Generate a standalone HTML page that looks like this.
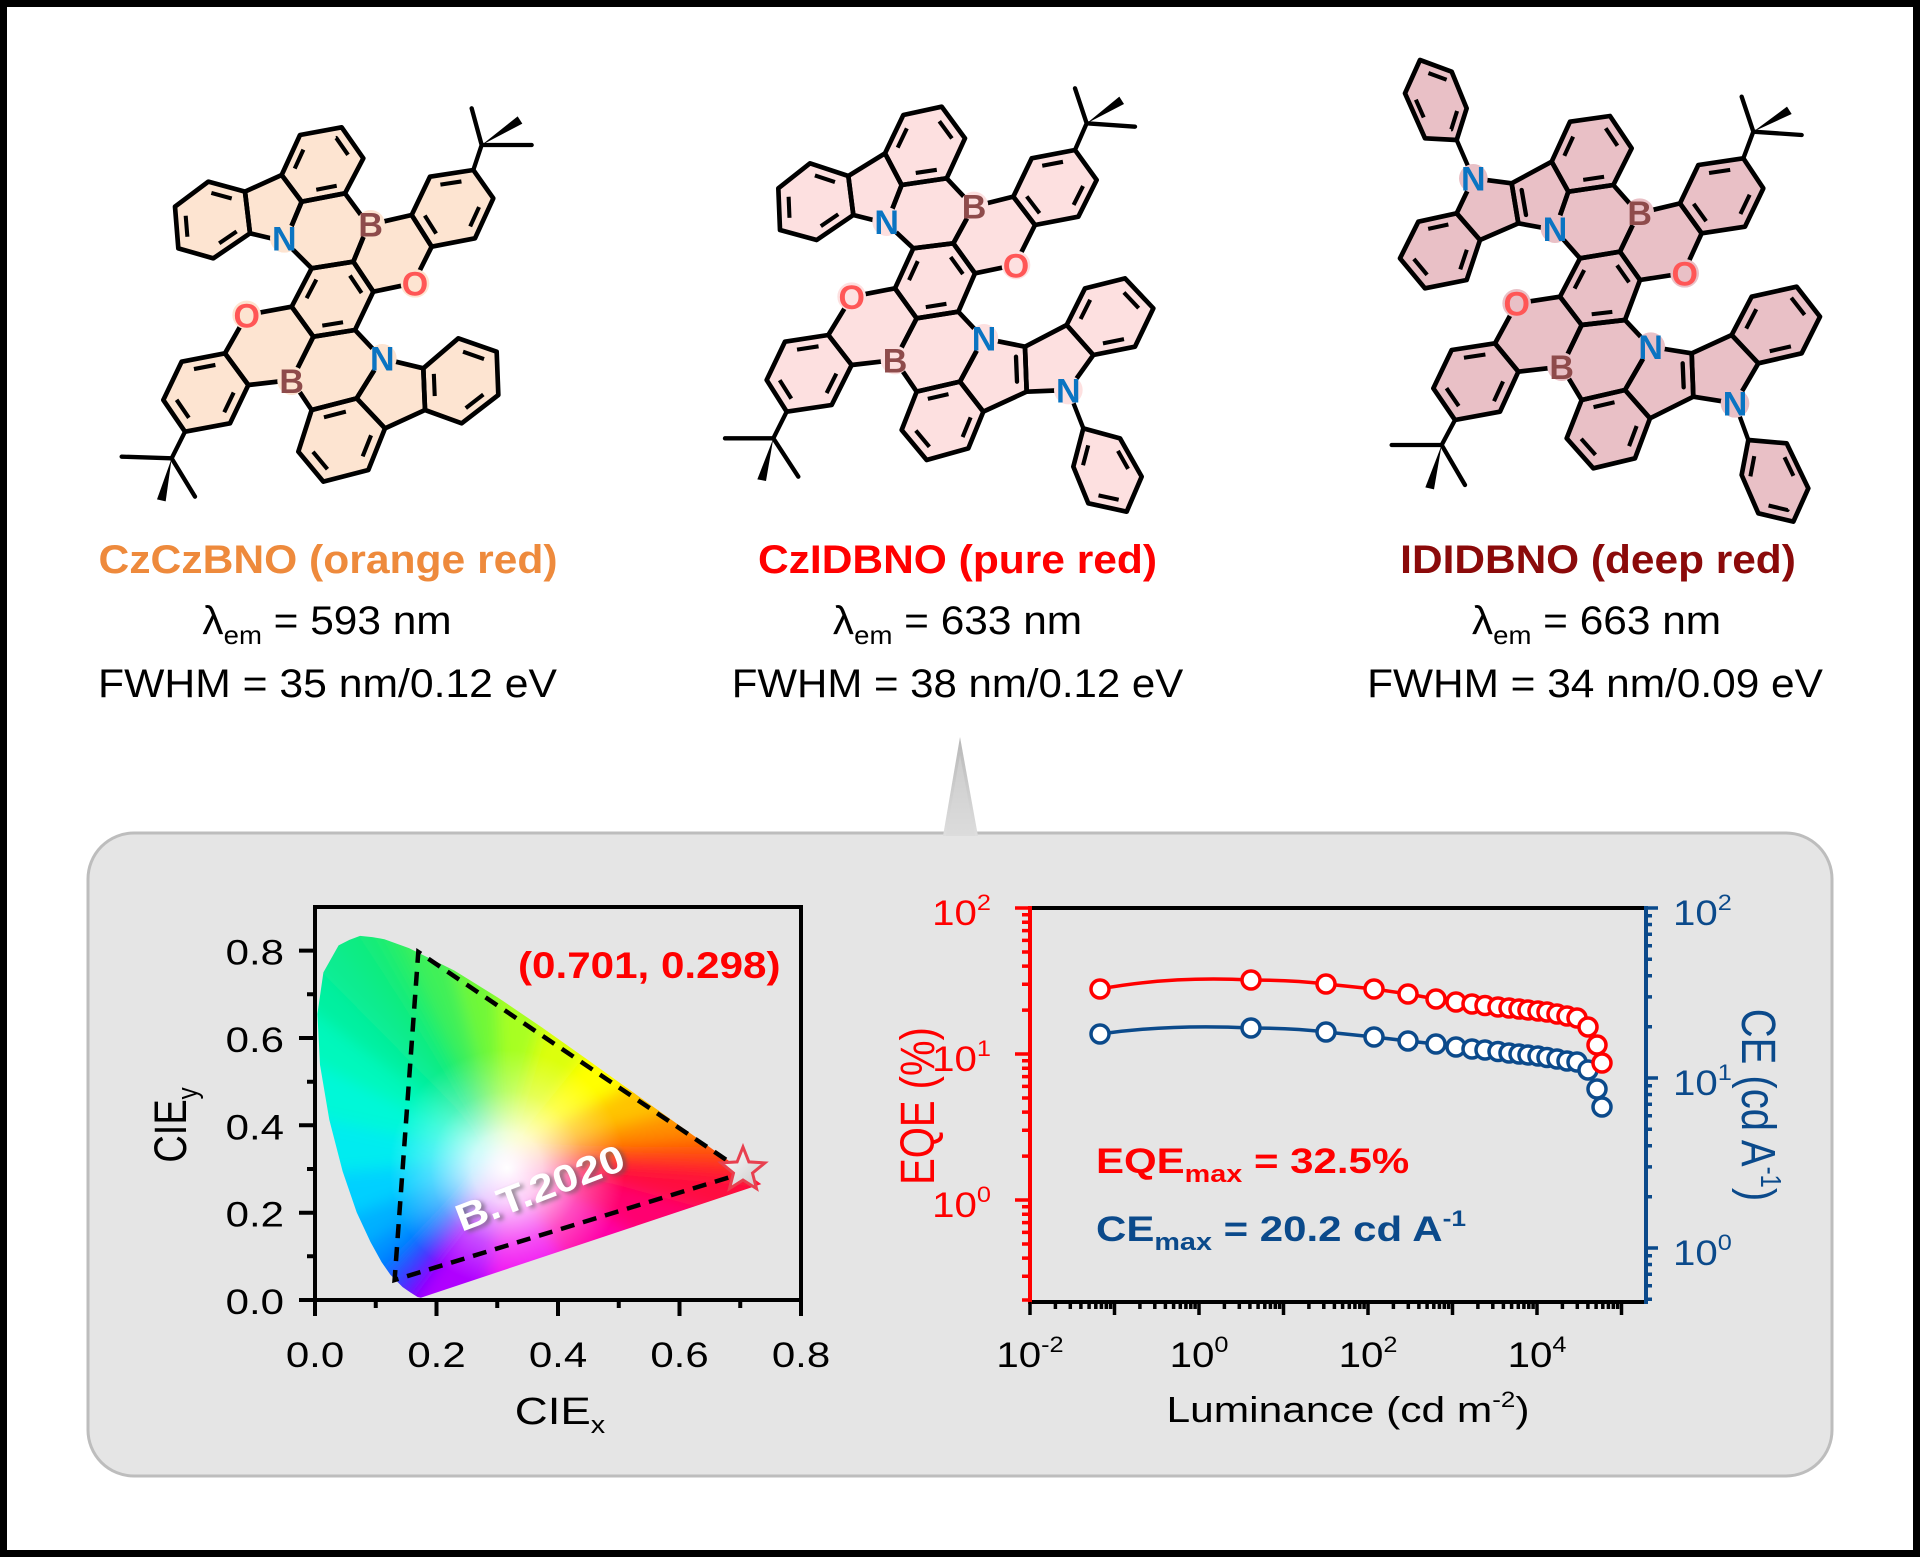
<!DOCTYPE html>
<html><head><meta charset="utf-8"><style>
html,body{margin:0;padding:0;background:#fff;}
svg{display:block;}
</style></head><body>
<svg xmlns="http://www.w3.org/2000/svg" width="1920" height="1557" viewBox="0 0 1920 1557" font-family="'Liberation Sans', Arial, sans-serif">
<defs>
<filter id="bl" x="200" y="800" width="720" height="620" filterUnits="userSpaceOnUse"><feGaussianBlur stdDeviation="8"/></filter>
<filter id="sh" x="-20%" y="-50%" width="140%" height="200%"><feGaussianBlur stdDeviation="2"/></filter>
<clipPath id="hs"><polygon points="420.8,1297.8 417.6,1297.0 410.1,1292.3 402.5,1287.0 390.4,1274.8 381.6,1262.1 370.5,1242.0 356.7,1212.4 342.6,1171.2 329.3,1119.8 320.0,1064.9 317.4,1014.0 323.4,972.4 338.6,945.4 349.4,939.9 360.1,935.9 372.3,937.1 384.4,939.2 409.0,948.1 454.5,970.6 498.2,997.7 541.7,1027.3 584.8,1057.8 626.3,1087.5 664.4,1114.7 695.9,1137.3 719.5,1154.1 735.1,1165.4 751.8,1177.3 761.3,1184.1"/></clipPath>
<radialGradient id="wg" cx="507" cy="1168" r="118" gradientUnits="userSpaceOnUse">
<stop offset="0" stop-color="#fff" stop-opacity="1"/>
<stop offset="0.3" stop-color="#fff" stop-opacity="0.8"/>
<stop offset="0.65" stop-color="#fff" stop-opacity="0.3"/>
<stop offset="1" stop-color="#fff" stop-opacity="0"/>
</radialGradient>
<linearGradient id="tg" x1="0" y1="0" x2="0" y2="1">
<stop offset="0" stop-color="#b8b8b8"/><stop offset="1" stop-color="#dedede"/>
</linearGradient>
<linearGradient id="stg" x1="0" y1="0" x2="1" y2="1">
<stop offset="0" stop-color="#ffffff"/><stop offset="1" stop-color="#c8c8c8"/>
</linearGradient>
</defs>

<rect x="0" y="0" width="1920" height="1557" fill="#fff"/>
<rect x="3.5" y="3.5" width="1913" height="1550" fill="none" stroke="#000" stroke-width="7"/>

<!-- ========== Molecule 1 ========== -->
<g transform="translate(115 95) scale(0.33333)" stroke-linejoin="round" stroke-linecap="round">
<g id="m1r">
<polygon points="590,520 715,500 775,590 720,705 595,725 530,635"/>
<polygon points="510,440 590,520 715,500 760,390 690,295 560,320"/>
<polygon points="760,390 715,500 775,590 895,565 950,455 890,360"/>
<polygon points="890,360 945,245 1075,225 1135,310 1080,430 950,455"/>
<polygon points="560,320 500,240 555,120 680,97 745,190 690,295"/>
<polygon points="510,440 560,320 500,240 390,290 405,415"/>
<polygon points="390,290 280,260 180,335 190,460 295,490 405,415"/>
<polygon points="395,660 530,635 595,725 530,855 400,870 330,775"/>
<polygon points="330,775 200,800 145,915 210,1010 345,985 400,870"/>
<polygon points="530,855 595,725 720,705 800,790 725,910 590,945"/>
<polygon points="590,945 550,1070 625,1160 760,1125 810,1000 725,910"/>
<polygon points="800,790 725,910 810,1000 930,945 925,820"/>
<polygon points="925,820 1030,730 1145,770 1150,900 1040,985 930,945"/>
</g>
</g>
<g transform="translate(115 95) scale(0.33333)" stroke-linejoin="round" stroke-linecap="round">
<use href="#m1r" fill="#fde4d1" stroke="#fde4d1" stroke-width="2"/>
<use href="#m1r" fill="none" stroke="#000" stroke-width="14"/>
<path d="M1075 225L1100 150M1100 150L1070 40M1100 150L1250 150M210 1010L170 1090M170 1090L20 1085M170 1090L240 1205" fill="none" stroke="#000" stroke-width="13"/>
<polygon points="1100,150 1208,64 1222,86" fill="#000"/>
<polygon points="170,1090 126,1213 152,1219" fill="#000"/>
<g fill="none" stroke="#000" stroke-width="17" stroke-dasharray="0.72 1.28" stroke-dashoffset="-0.14" stroke-linecap="butt">
<polygon pathLength="6" transform="translate(654.2 612.5) scale(0.72) translate(-654.2 -612.5)" points="715,500 775,590 720,705 595,725 530,635 590,520"/>
<polygon pathLength="6" transform="translate(1012.5 337.5) scale(0.72) translate(-1012.5 -337.5)" points="945,245 1075,225 1135,310 1080,430 950,455 890,360"/>
<polygon pathLength="6" transform="translate(621.7 210.3) scale(0.72) translate(-621.7 -210.3)" points="500,240 555,120 680,97 745,190 690,295 560,320"/>
<polygon pathLength="6" transform="translate(290 375) scale(0.72) translate(-290 -375)" points="390,290 280,260 180,335 190,460 295,490 405,415"/>
<polygon pathLength="6" transform="translate(271.7 890.8) scale(0.72) translate(-271.7 -890.8)" points="330,775 200,800 145,915 210,1010 345,985 400,870"/>
<polygon pathLength="6" transform="translate(676.7 1035) scale(0.72) translate(-676.7 -1035)" points="550,1070 625,1160 760,1125 810,1000 725,910 590,945"/>
<polygon pathLength="6" transform="translate(1036.7 858.3) scale(0.72) translate(-1036.7 -858.3)" points="1030,730 1145,770 1150,900 1040,985 930,945 925,820"/>
</g>
<g fill="#fde4d1">
<circle cx="508" cy="430" r="43"/><circle cx="767" cy="388" r="43"/><circle cx="900" cy="565" r="43"/>
<circle cx="395" cy="660" r="43"/><circle cx="530" cy="857" r="43"/><circle cx="802" cy="790" r="43"/>
</g>
<g font-size="102" font-weight="bold" text-anchor="middle">
<text x="508" y="467" fill="#0a74c2">N</text>
<text x="767" y="425" fill="#8e4b4b">B</text>
<text x="900" y="602" fill="#ff5656">O</text>
<text x="395" y="697" fill="#ff5656">O</text>
<text x="530" y="894" fill="#8e4b4b">B</text>
<text x="802" y="827" fill="#0a74c2">N</text>
</g>
</g>

<!-- ========== Molecule 2 ========== -->
<g transform="translate(720 80) scale(0.33333)" stroke-linejoin="round" stroke-linecap="round">
<g id="m2r">
<polygon points="580,505 700,490 765,580 715,695 590,715 525,625"/>
<polygon points="500,430 580,505 700,490 760,380 680,295 545,315"/>
<polygon points="760,380 700,490 765,580 885,555 945,435 880,350"/>
<polygon points="880,350 935,235 1065,210 1130,300 1075,410 945,435"/>
<polygon points="545,315 495,220 550,105 665,80 735,175 680,295"/>
<polygon points="500,430 545,315 495,220 385,288 400,405"/>
<polygon points="385,288 270,250 175,325 180,450 290,480 400,405"/>
<polygon points="395,650 525,625 590,715 525,840 395,855 325,765"/>
<polygon points="325,765 195,785 140,900 200,995 335,975 395,855"/>
<polygon points="525,840 590,715 715,695 790,775 720,905 590,935"/>
<polygon points="590,935 545,1050 620,1140 745,1105 790,995 720,905"/>
<polygon points="790,775 720,905 790,995 920,935 915,800"/>
<polygon points="915,800 1040,735 1120,825 1045,930 920,935"/>
<polygon points="1040,735 1095,625 1215,595 1300,685 1245,800 1120,825"/>
<polygon points="1090,1045 1200,1075 1265,1190 1220,1295 1105,1270 1060,1160"/>
</g>
</g>
<g transform="translate(720 80) scale(0.33333)" stroke-linejoin="round" stroke-linecap="round">
<use href="#m2r" fill="#fde0e0" stroke="#fde0e0" stroke-width="2"/>
<use href="#m2r" fill="none" stroke="#000" stroke-width="14"/>
<path d="M1065 210L1100 130M1100 130L1065 25M1100 130L1245 140M200 995L160 1075M160 1075L15 1075M160 1075L235 1190M1045 930L1090 1045M888 830L891 905" fill="none" stroke="#000" stroke-width="13"/>
<polygon points="1100,130 1198,50 1212,72" fill="#000"/>
<polygon points="160,1075 112,1198 138,1203" fill="#000"/>
<g fill="none" stroke="#000" stroke-width="17" stroke-dasharray="0.72 1.28" stroke-dashoffset="-0.14" stroke-linecap="butt">
<polygon pathLength="6" transform="translate(645.8 601.7) scale(0.72) translate(-645.8 -601.7)" points="700,490 765,580 715,695 590,715 525,625 580,505"/>
<polygon pathLength="6" transform="translate(1005 323.3) scale(0.72) translate(-1005 -323.3)" points="935,235 1065,210 1130,300 1075,410 945,435 880,350"/>
<polygon pathLength="6" transform="translate(611.7 198.3) scale(0.72) translate(-611.7 -198.3)" points="495,220 550,105 665,80 735,175 680,295 545,315"/>
<polygon pathLength="6" transform="translate(283.3 366.3) scale(0.72) translate(-283.3 -366.3)" points="385,288 270,250 175,325 180,450 290,480 400,405"/>
<polygon pathLength="6" transform="translate(265 879.2) scale(0.72) translate(-265 -879.2)" points="325,765 195,785 140,900 200,995 335,975 395,855"/>
<polygon pathLength="6" transform="translate(668.3 1021.7) scale(0.72) translate(-668.3 -1021.7)" points="545,1050 620,1140 745,1105 790,995 720,905 590,935"/>
<polygon pathLength="6" transform="translate(1169.2 710.8) scale(0.72) translate(-1169.2 -710.8)" points="1040,735 1095,625 1215,595 1300,685 1245,800 1120,825"/>
<polygon pathLength="6" transform="translate(1156.7 1172.5) scale(0.72) translate(-1156.7 -1172.5)" points="1200,1075 1265,1190 1220,1295 1105,1270 1060,1160 1090,1045"/>
</g>
<g fill="#fde0e0">
<circle cx="500" cy="425" r="43"/><circle cx="762" cy="378" r="43"/><circle cx="888" cy="555" r="43"/>
<circle cx="395" cy="650" r="43"/><circle cx="525" cy="840" r="43"/><circle cx="792" cy="775" r="43"/><circle cx="1045" cy="930" r="43"/>
</g>
<g font-size="102" font-weight="bold" text-anchor="middle">
<text x="500" y="462" fill="#0a74c2">N</text>
<text x="762" y="415" fill="#8e4b4b">B</text>
<text x="888" y="592" fill="#ff5656">O</text>
<text x="395" y="687" fill="#ff5656">O</text>
<text x="525" y="877" fill="#8e4b4b">B</text>
<text x="792" y="812" fill="#0a74c2">N</text>
<text x="1045" y="967" fill="#0a74c2">N</text>
</g>
</g>

<!-- ========== Molecule 3 ========== -->
<g transform="translate(1385 50) scale(0.33333)" stroke-linejoin="round" stroke-linecap="round">
<g id="m3r">
<polygon points="585,625 705,605 765,690 720,810 590,825 525,740"/>
<polygon points="510,540 585,625 705,605 760,490 685,405 550,425"/>
<polygon points="760,490 705,605 765,690 895,670 950,550 885,460"/>
<polygon points="885,460 940,345 1075,325 1135,415 1080,530 950,550"/>
<polygon points="550,425 500,335 555,215 675,198 740,295 685,405"/>
<polygon points="510,540 550,425 500,335 380,400 400,520"/>
<polygon points="380,400 265,385 215,490 285,570 400,520"/>
<polygon points="215,490 100,515 45,625 120,715 245,690 285,570"/>
<polygon points="105,30 200,65 245,175 215,270 120,265 60,130"/>
<polygon points="395,760 525,740 590,825 530,950 400,965 330,880"/>
<polygon points="330,880 200,900 145,1015 210,1110 345,1085 400,965"/>
<polygon points="530,950 590,825 720,810 795,890 720,1020 590,1050"/>
<polygon points="590,1050 545,1165 625,1255 750,1225 795,1105 720,1020"/>
<polygon points="795,890 720,1020 795,1105 925,1040 920,910"/>
<polygon points="920,910 1040,855 1120,940 1050,1060 925,1040"/>
<polygon points="1040,855 1100,740 1235,710 1305,800 1250,910 1120,940"/>
<polygon points="1090,1170 1205,1180 1270,1315 1225,1415 1120,1390 1070,1275"/>
</g>
</g>
<g transform="translate(1385 50) scale(0.33333)" stroke-linejoin="round" stroke-linecap="round">
<use href="#m3r" fill="#e9c0c6" stroke="#e9c0c6" stroke-width="2"/>
<use href="#m3r" fill="none" stroke="#000" stroke-width="14"/>
<path d="M1075 325L1105 245M1105 245L1070 140M1105 245L1250 255M210 1110L170 1185M170 1185L20 1185M170 1185L240 1305M265 385L215 270M1050 1060L1090 1170M410 420L423 495M893 940L896 1012" fill="none" stroke="#000" stroke-width="13"/>
<polygon points="1105,245 1206,170 1220,192" fill="#000"/>
<polygon points="170,1185 121,1312 147,1318" fill="#000"/>
<g fill="none" stroke="#000" stroke-width="17" stroke-dasharray="0.72 1.28" stroke-dashoffset="-0.14" stroke-linecap="butt">
<polygon pathLength="6" transform="translate(648.3 715.8) scale(0.72) translate(-648.3 -715.8)" points="705,605 765,690 720,810 590,825 525,740 585,625"/>
<polygon pathLength="6" transform="translate(1010.8 437.5) scale(0.72) translate(-1010.8 -437.5)" points="940,345 1075,325 1135,415 1080,530 950,550 885,460"/>
<polygon pathLength="6" transform="translate(617.5 312.2) scale(0.72) translate(-617.5 -312.2)" points="500,335 555,215 675,198 740,295 685,405 550,425"/>
<polygon pathLength="6" transform="translate(168.3 600.8) scale(0.72) translate(-168.3 -600.8)" points="215,490 100,515 45,625 120,715 245,690 285,570"/>
<polygon pathLength="6" transform="translate(157.5 155.8) scale(0.72) translate(-157.5 -155.8)" points="105,30 200,65 245,175 215,270 120,265 60,130"/>
<polygon pathLength="6" transform="translate(271.7 992.5) scale(0.72) translate(-271.7 -992.5)" points="330,880 200,900 145,1015 210,1110 345,1085 400,965"/>
<polygon pathLength="6" transform="translate(670.8 1136.7) scale(0.72) translate(-670.8 -1136.7)" points="545,1165 625,1255 750,1225 795,1105 720,1020 590,1050"/>
<polygon pathLength="6" transform="translate(1175 825.8) scale(0.72) translate(-1175 -825.8)" points="1040,855 1100,740 1235,710 1305,800 1250,910 1120,940"/>
<polygon pathLength="6" transform="translate(1163.3 1290.8) scale(0.72) translate(-1163.3 -1290.8)" points="1205,1180 1270,1315 1225,1415 1120,1390 1070,1275 1090,1170"/>
</g>
<g fill="#e9c0c6">
<circle cx="265" cy="385" r="43"/><circle cx="510" cy="536" r="43"/><circle cx="764" cy="488" r="43"/><circle cx="899" cy="670" r="43"/>
<circle cx="395" cy="760" r="43"/><circle cx="530" cy="950" r="43"/><circle cx="797" cy="890" r="43"/><circle cx="1050" cy="1060" r="43"/>
</g>
<g font-size="102" font-weight="bold" text-anchor="middle">
<text x="265" y="422" fill="#0a74c2">N</text>
<text x="510" y="573" fill="#0a74c2">N</text>
<text x="764" y="525" fill="#8e4b4b">B</text>
<text x="899" y="707" fill="#ff5656">O</text>
<text x="395" y="797" fill="#ff5656">O</text>
<text x="530" y="987" fill="#8e4b4b">B</text>
<text x="797" y="927" fill="#0a74c2">N</text>
<text x="1050" y="1097" fill="#0a74c2">N</text>
</g>
</g>

<!-- ========== Top text ========== -->
<g font-weight="bold" font-size="40" text-anchor="middle">
<text transform="translate(328 573) scale(1.065 1)" fill="#ee8a3c">CzCzBNO (orange red)</text>
<text transform="translate(957.5 573) scale(1.063 1)" fill="#ff0000">CzIDBNO (pure red)</text>
<text transform="translate(1598 573) scale(1.06 1)" fill="#8b0a0a">IDIDBNO (deep red)</text>
</g>
<g font-size="40" text-anchor="middle" fill="#000">
<text transform="translate(327 634) scale(1.06 1)">λ<tspan font-size="26" dy="10">em</tspan><tspan dy="-10"> = 593 nm</tspan></text>
<text transform="translate(957.5 634) scale(1.06 1)">λ<tspan font-size="26" dy="10">em</tspan><tspan dy="-10"> = 633 nm</tspan></text>
<text transform="translate(1596.5 634) scale(1.06 1)">λ<tspan font-size="26" dy="10">em</tspan><tspan dy="-10"> = 663 nm</tspan></text>
<text transform="translate(327.5 697) scale(1.067 1)">FWHM = 35 nm/0.12 eV</text>
<text transform="translate(957.5 697) scale(1.05 1)">FWHM = 38 nm/0.12 eV</text>
<text transform="translate(1595 697) scale(1.06 1)">FWHM = 34 nm/0.09 eV</text>
</g>

<!-- ========== Bottom panel ========== -->
<rect x="88" y="833" width="1744" height="643" rx="46" ry="46" fill="#e5e5e5" stroke="#bdbdbd" stroke-width="3"/>
<polygon points="943,836 960,737 978,836" fill="url(#tg)"/>
<polygon points="946,836 960,755 975,836" fill="#d9d9d9" opacity="0.5"/>

<!-- CIE diagram -->
<g clip-path="url(#hs)">
<g filter="url(#bl)" stroke-width="2">
<polygon points="505,1156 391.3,1347.3 387.0,1346.2" fill="#8a00ff" stroke="#8a00ff"/>
<polygon points="505,1156 387.0,1346.2 376.9,1339.9" fill="#7a00ff" stroke="#7a00ff"/>
<polygon points="505,1156 376.9,1339.9 366.6,1332.7" fill="#5a10ff" stroke="#5a10ff"/>
<polygon points="505,1156 366.6,1332.7 350.3,1316.3" fill="#3040ff" stroke="#3040ff"/>
<polygon points="505,1156 350.3,1316.3 338.4,1299.1" fill="#0070ff" stroke="#0070ff"/>
<polygon points="505,1156 338.4,1299.1 323.4,1272.0" fill="#0090ff" stroke="#0090ff"/>
<polygon points="505,1156 323.4,1272.0 304.8,1232.0" fill="#00b0ff" stroke="#00b0ff"/>
<polygon points="505,1156 304.8,1232.0 285.8,1176.4" fill="#00d0ff" stroke="#00d0ff"/>
<polygon points="505,1156 285.8,1176.4 267.8,1107.0" fill="#00ecf0" stroke="#00ecf0"/>
<polygon points="505,1156 267.8,1107.0 255.3,1032.9" fill="#00f8d8" stroke="#00f8d8"/>
<polygon points="505,1156 255.3,1032.9 251.7,964.2" fill="#00f8bc" stroke="#00f8bc"/>
<polygon points="505,1156 251.7,964.2 259.8,908.0" fill="#00f0a0" stroke="#00f0a0"/>
<polygon points="505,1156 259.8,908.0 280.4,871.6" fill="#08ec90" stroke="#08ec90"/>
<polygon points="505,1156 280.4,871.6 309.4,858.8" fill="#10ec84" stroke="#10ec84"/>
<polygon points="505,1156 309.4,858.8 342.2,863.2" fill="#18ec78" stroke="#18ec78"/>
<polygon points="505,1156 342.2,863.2 375.4,875.2" fill="#28ee68" stroke="#28ee68"/>
<polygon points="505,1156 375.4,875.2 436.8,905.6" fill="#40f058" stroke="#40f058"/>
<polygon points="505,1156 436.8,905.6 495.8,942.2" fill="#70f838" stroke="#70f838"/>
<polygon points="505,1156 495.8,942.2 554.5,982.1" fill="#a8ff20" stroke="#a8ff20"/>
<polygon points="505,1156 554.5,982.1 612.7,1023.3" fill="#dcff08" stroke="#dcff08"/>
<polygon points="505,1156 612.7,1023.3 668.8,1063.4" fill="#ffff00" stroke="#ffff00"/>
<polygon points="505,1156 668.8,1063.4 720.2,1100.1" fill="#ffc400" stroke="#ffc400"/>
<polygon points="505,1156 720.2,1100.1 762.7,1130.7" fill="#ff9000" stroke="#ff9000"/>
<polygon points="505,1156 762.7,1130.7 794.6,1153.3" fill="#ff6000" stroke="#ff6000"/>
<polygon points="505,1156 794.6,1153.3 815.6,1168.6" fill="#ff3c18" stroke="#ff3c18"/>
<polygon points="505,1156 815.6,1168.6 838.2,1184.7" fill="#ff2428" stroke="#ff2428"/>
<polygon points="505,1156 838.2,1184.7 851.0,1193.8" fill="#ff1430" stroke="#ff1430"/>
<polygon points="505,1156 851.0,1193.8 759.1,1224.6" fill="#ff0840" stroke="#ff0840"/>
<polygon points="505,1156 759.1,1224.6 667.1,1255.3" fill="#ff0070" stroke="#ff0070"/>
<polygon points="505,1156 667.1,1255.3 575.2,1286.0" fill="#ff00a8" stroke="#ff00a8"/>
<polygon points="505,1156 575.2,1286.0 483.3,1316.7" fill="#f000f0" stroke="#f000f0"/>
<polygon points="505,1156 483.3,1316.7 391.3,1347.3" fill="#b000ff" stroke="#b000ff"/>
</g>
<rect x="250" y="850" width="620" height="520" fill="url(#wg)"/>
</g>
<polygon points="745,1172.5 418.3,952 394.6,1280" fill="none" stroke="#000" stroke-width="4.5" stroke-dasharray="14 9"/>
<g transform="translate(540 1188) rotate(-21)" font-weight="bold" font-size="38" text-anchor="middle">
<text x="3" y="16" fill="#555" opacity="0.6" filter="url(#sh)" textLength="178" lengthAdjust="spacingAndGlyphs">B.T.2020</text>
<text x="0" y="13" fill="#fff" textLength="178" lengthAdjust="spacingAndGlyphs">B.T.2020</text>
</g>
<polygon points="743,1147 748.9,1161.9 764.9,1162.9 752.5,1173.1 756.5,1188.6 743,1180 729.5,1188.6 733.5,1173.1 721.1,1162.9 737.1,1161.9" fill="url(#stg)" stroke="#e8404f" stroke-width="3" stroke-linejoin="miter"/>
<text transform="translate(518 978) scale(1.14 1)" font-weight="bold" font-size="37" fill="#ff0000">(0.701, 0.298)</text>

<rect x="315" y="907" width="486" height="393" fill="none" stroke="#000" stroke-width="4"/>
<path d="M315 1300v16M436.5 1300v16M558 1300v16M679.5 1300v16M801 1300v16M375.75 1300v8M497.25 1300v8M618.75 1300v8M740.25 1300v8M315 1300h-16M315 1212.7h-16M315 1125.3h-16M315 1038h-16M315 950.6h-16M315 1256.3h-8M315 1169h-8M315 1081.7h-8M315 994.3h-8" stroke="#000" stroke-width="4" fill="none"/>
<g font-size="35" fill="#000">
<g text-anchor="end">
<text transform="translate(284 1314) scale(1.2 1)">0.0</text>
<text transform="translate(284 1226.7) scale(1.2 1)">0.2</text>
<text transform="translate(284 1139.3) scale(1.2 1)">0.4</text>
<text transform="translate(284 1052) scale(1.2 1)">0.6</text>
<text transform="translate(284 964.6) scale(1.2 1)">0.8</text>
</g>
<g text-anchor="middle">
<text transform="translate(315 1367) scale(1.2 1)">0.0</text>
<text transform="translate(436.5 1367) scale(1.2 1)">0.2</text>
<text transform="translate(558 1367) scale(1.2 1)">0.4</text>
<text transform="translate(679.5 1367) scale(1.2 1)">0.6</text>
<text transform="translate(801 1367) scale(1.2 1)">0.8</text>
<text transform="translate(560 1424) scale(1.2 1)" font-size="38">CIE<tspan font-size="24" dy="9">x</tspan></text>
<text transform="translate(186 1125) scale(1.2 1) rotate(-90)" font-size="38">CIE<tspan font-size="24" dy="9">y</tspan></text>
</g>
</g>

<!-- EQE / CE plot -->
<path d="M1030 908H1646M1030 1302H1646" stroke="#000" stroke-width="4"/>
<path d="M1030 906V1304" stroke="#ff0000" stroke-width="4"/>
<path d="M1646 906V1304" stroke="#0b4a8b" stroke-width="4"/>
<path d="M1030 1302v13M1114.5 1302v13M1199 1302v13M1283.5 1302v13M1368 1302v13M1452.5 1302v13M1537 1302v13M1621.5 1302v13
M1055.4 1302v7M1070.3 1302v7M1080.9 1302v7M1089.1 1302v7M1095.8 1302v7M1101.4 1302v7M1106.3 1302v7M1110.6 1302v7
M1139.9 1302v7M1154.8 1302v7M1165.4 1302v7M1173.6 1302v7M1180.3 1302v7M1185.9 1302v7M1190.8 1302v7M1195.1 1302v7
M1224.4 1302v7M1239.3 1302v7M1249.9 1302v7M1258.1 1302v7M1264.8 1302v7M1270.4 1302v7M1275.3 1302v7M1279.6 1302v7
M1308.9 1302v7M1323.8 1302v7M1334.4 1302v7M1342.6 1302v7M1349.3 1302v7M1354.9 1302v7M1359.8 1302v7M1364.1 1302v7
M1393.4 1302v7M1408.3 1302v7M1418.9 1302v7M1427.1 1302v7M1433.8 1302v7M1439.4 1302v7M1444.3 1302v7M1448.6 1302v7
M1477.9 1302v7M1492.8 1302v7M1503.4 1302v7M1511.6 1302v7M1518.3 1302v7M1523.9 1302v7M1528.8 1302v7M1533.1 1302v7
M1562.4 1302v7M1577.3 1302v7M1587.9 1302v7M1596.1 1302v7M1602.8 1302v7M1608.4 1302v7M1613.3 1302v7M1617.6 1302v7" stroke="#000" stroke-width="3.5" fill="none"/>
<path d="M1030 908h-15M1030 1054h-15M1030 1200h-15
M1030 1010.1h-8M1030 984.3h-8M1030 966.1h-8M1030 952h-8M1030 940.4h-8M1030 930.6h-8M1030 922.2h-8M1030 914.7h-8
M1030 1156.1h-8M1030 1130.3h-8M1030 1112.1h-8M1030 1098h-8M1030 1086.4h-8M1030 1076.6h-8M1030 1068.2h-8M1030 1060.7h-8
M1030 1300h-8M1030 1276.3h-8M1030 1258.1h-8M1030 1244h-8M1030 1232.4h-8M1030 1222.6h-8M1030 1214.2h-8M1030 1206.7h-8" stroke="#ff0000" stroke-width="3.5" fill="none"/>
<path d="M1646 908h12M1646 1078h12M1646 1248h12
M1646 1026.8h6M1646 996.9h6M1646 975.7h6M1646 959.2h6M1646 945.7h6M1646 934.3h6M1646 924.5h6M1646 915.8h6
M1646 1196.8h6M1646 1166.9h6M1646 1145.7h6M1646 1129.2h6M1646 1115.7h6M1646 1104.3h6M1646 1094.5h6M1646 1085.8h6
M1646 1299.2h6M1646 1285.7h6M1646 1274.3h6M1646 1264.5h6M1646 1255.8h6" stroke="#0b4a8b" stroke-width="3.5" fill="none"/>

<!-- data -->
<path d="M1100 989Q1170 976 1251 980Q1292 980 1326 984L1374 989L1408 994L1436 999L1456 1002L1472 1004L1485 1005.5L1498 1007L1509 1008L1519 1009L1528 1010L1538 1011L1547 1012L1557 1014L1567 1016L1577 1018L1588 1027L1597 1045L1602 1063" fill="none" stroke="#ff0000" stroke-width="3.5" stroke-linejoin="round"/>
<path d="M1100 1034Q1170 1024 1251 1028Q1292 1028 1326 1032L1374 1037L1408 1041L1436 1044L1456 1047L1472 1049L1485 1050L1498 1051.5L1509 1053L1519 1054L1528 1055L1538 1056L1547 1057.5L1557 1059L1567 1061L1577 1062L1588 1070L1597 1089L1602 1107" fill="none" stroke="#0b4a8b" stroke-width="3.5" stroke-linejoin="round"/>
<g fill="#fff" stroke="#0b4a8b" stroke-width="3.5">
<circle cx="1100" cy="1034" r="9"/><circle cx="1251" cy="1028" r="9"/><circle cx="1326" cy="1032" r="9"/><circle cx="1374" cy="1037" r="9"/><circle cx="1408" cy="1041" r="9"/><circle cx="1436" cy="1044" r="9"/><circle cx="1456" cy="1047" r="9"/><circle cx="1472" cy="1049" r="9"/><circle cx="1485" cy="1050" r="9"/><circle cx="1498" cy="1051.5" r="9"/><circle cx="1509" cy="1053" r="9"/><circle cx="1519" cy="1054" r="9"/><circle cx="1528" cy="1055" r="9"/><circle cx="1538" cy="1056" r="9"/><circle cx="1547" cy="1057.5" r="9"/><circle cx="1557" cy="1059" r="9"/><circle cx="1567" cy="1061" r="9"/><circle cx="1577" cy="1062" r="9"/><circle cx="1588" cy="1070" r="9"/><circle cx="1597" cy="1089" r="9"/><circle cx="1602" cy="1107" r="9"/>
</g>
<g fill="#fff" stroke="#ff0000" stroke-width="3.5">
<circle cx="1100" cy="989" r="9"/><circle cx="1251" cy="980" r="9"/><circle cx="1326" cy="984" r="9"/><circle cx="1374" cy="989" r="9"/><circle cx="1408" cy="994" r="9"/><circle cx="1436" cy="999" r="9"/><circle cx="1456" cy="1002" r="9"/><circle cx="1472" cy="1004" r="9"/><circle cx="1485" cy="1005.5" r="9"/><circle cx="1498" cy="1007" r="9"/><circle cx="1509" cy="1008" r="9"/><circle cx="1519" cy="1009" r="9"/><circle cx="1528" cy="1010" r="9"/><circle cx="1538" cy="1011" r="9"/><circle cx="1547" cy="1012" r="9"/><circle cx="1557" cy="1014" r="9"/><circle cx="1567" cy="1016" r="9"/><circle cx="1577" cy="1018" r="9"/><circle cx="1588" cy="1027" r="9"/><circle cx="1597" cy="1045" r="9"/><circle cx="1602" cy="1063" r="9"/>
</g>

<!-- tick labels -->
<g font-size="35">
<g fill="#ff0000" text-anchor="end">
<text transform="translate(991 925) scale(1.15 1)">10<tspan font-size="22" dy="-15">2</tspan></text>
<text transform="translate(991 1071) scale(1.15 1)">10<tspan font-size="22" dy="-15">1</tspan></text>
<text transform="translate(991 1217) scale(1.15 1)">10<tspan font-size="22" dy="-15">0</tspan></text>
</g>
<g fill="#0b4a8b">
<text transform="translate(1673 925) scale(1.15 1)">10<tspan font-size="22" dy="-15">2</tspan></text>
<text transform="translate(1673 1095) scale(1.15 1)">10<tspan font-size="22" dy="-15">1</tspan></text>
<text transform="translate(1673 1265) scale(1.15 1)">10<tspan font-size="22" dy="-15">0</tspan></text>
</g>
<g fill="#000" text-anchor="middle">
<text transform="translate(1030 1367) scale(1.15 1)">10<tspan font-size="22" dy="-15">-2</tspan></text>
<text transform="translate(1199 1367) scale(1.15 1)">10<tspan font-size="22" dy="-15">0</tspan></text>
<text transform="translate(1368 1367) scale(1.15 1)">10<tspan font-size="22" dy="-15">2</tspan></text>
<text transform="translate(1537 1367) scale(1.15 1)">10<tspan font-size="22" dy="-15">4</tspan></text>
</g>
</g>
<text transform="translate(1348 1422) scale(1.18 1)" font-size="36" text-anchor="middle" fill="#000">Luminance (cd m<tspan font-size="22" dy="-15">-2</tspan><tspan dy="15">)</tspan></text>
<text transform="translate(934 1106) scale(1.2 1) rotate(-90)" font-size="40" text-anchor="middle" fill="#ff0000">EQE (%)</text>
<text transform="translate(1742 1105) scale(1.2 1) rotate(90)" font-size="40" text-anchor="middle" fill="#0b4a8b">CE (cd A<tspan font-size="24" dy="-16">-1</tspan><tspan dy="16">)</tspan></text>

<text transform="translate(1096 1173) scale(1.2 1)" font-size="35" font-weight="bold" fill="#ff0000">EQE<tspan font-size="24" dy="9">max</tspan><tspan dy="-9"> = 32.5%</tspan></text>
<text transform="translate(1096 1241) scale(1.2 1)" font-size="35" font-weight="bold" fill="#0b4a8b">CE<tspan font-size="24" dy="9">max</tspan><tspan dy="-9"> = 20.2 cd A</tspan><tspan font-size="22" dy="-15">-1</tspan></text>
</svg>
</body></html>
